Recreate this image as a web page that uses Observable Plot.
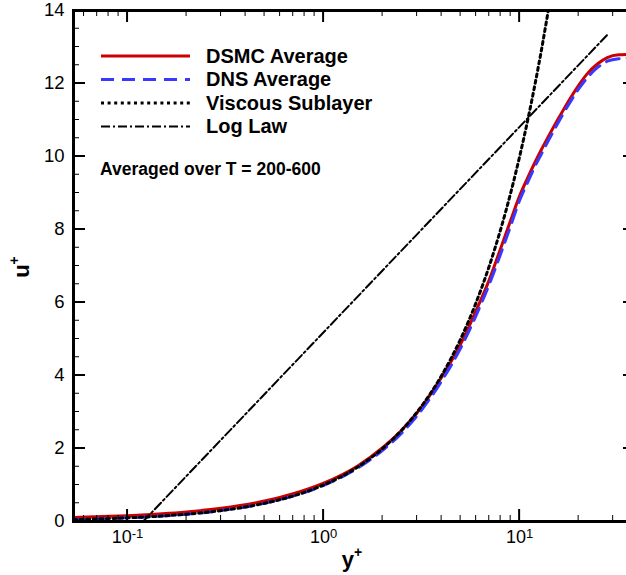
<!DOCTYPE html>
<html>
<head>
<meta charset="utf-8">
<script src="https://cdn.jsdelivr.net/npm/d3@7"></script>
<script src="https://cdn.jsdelivr.net/npm/@observablehq/plot@0.6"></script>
<style>
  html, body { margin: 0; padding: 0; background: #fff; overflow: hidden; }
  #chart svg { display: block; max-width: none !important; }
</style>
</head>
<body>
<div id="chart"></div>
<script>
// ---- data ----
const dsmcYplus = [0.053, 0.07, 0.1, 0.15, 0.2, 0.3, 0.5, 0.7, 1, 1.5, 2, 2.5, 3, 4, 5, 6, 7, 8, 9, 10, 11, 12, 13, 14, 16, 18, 20, 22, 25, 28, 32, 39];
const dsmcUplus = [0.11, 0.13, 0.16, 0.21, 0.26, 0.36, 0.56, 0.76, 1.05, 1.53, 2.02, 2.5, 2.98, 3.95, 4.86, 5.78, 6.62, 7.48, 8.25, 8.92, 9.42, 9.85, 10.22, 10.54, 11.1, 11.57, 11.95, 12.25, 12.54, 12.71, 12.785, 12.8];
const dnsYplus  = [0.053, 0.07, 0.1, 0.15, 0.2, 0.3, 0.5, 0.7, 1, 1.5, 2, 2.5, 3, 4, 5, 6, 7, 8, 9, 10, 11, 12, 13, 14, 16, 18, 20, 22, 25, 28, 32, 39];
const dnsUplus  = [0.055, 0.072, 0.1, 0.15, 0.2, 0.3, 0.5, 0.7, 0.99, 1.47, 1.95, 2.42, 2.9, 3.85, 4.75, 5.65, 6.5, 7.33, 8.1, 8.8, 9.3, 9.74, 10.1, 10.43, 11.0, 11.47, 11.85, 12.14, 12.44, 12.61, 12.68, 12.7];
const viscYplus = [0.053, 0.07, 0.1, 0.15, 0.2, 0.3, 0.4, 0.5, 0.7, 1, 1.5, 2, 2.5, 3, 4, 5, 6, 7, 8, 9, 10, 11, 12, 13, 14];
const viscUplus = [0.053, 0.07, 0.1, 0.15, 0.2, 0.3, 0.4, 0.5, 0.7, 1, 1.5, 2, 2.5, 3, 4, 5, 6, 7, 8, 9, 10, 11, 12, 13, 14];
const logYplus  = [0.12, 28.2];
const logUplus  = [0, 13.35];

const xMajorTicks = [0.1, 1, 10];
const xMinorTicks = [0.06, 0.07, 0.08, 0.09, 0.2, 0.3, 0.4, 0.5, 0.6, 0.7, 0.8, 0.9, 2, 3, 4, 5, 6, 7, 8, 9, 20, 30];
const xTickExponents = ["-1", "0", "1"];
const yMajorTicks = [0, 2, 4, 6, 8, 10, 12, 14];
const yMinorTicks = [0.5, 1, 1.5, 2.5, 3, 3.5, 4.5, 5, 5.5, 6.5, 7, 7.5, 8.5, 9, 9.5, 10.5, 11, 11.5, 12.5, 13, 13.5];

const legendLabels = ["DSMC Average", "DNS Average", "Viscous Sublayer", "Log Law"];
const noteText = "Averaged over T = 200-600";
const xTitle = ["y", "+"];
const yTitle = ["u", "+"];

// ---- build tables ----
const toRows = (xs, ys) => xs.map((x, i) => ({x, y: ys[i]}));
const dsmc = toRows(dsmcYplus, dsmcUplus);
const dns = toRows(dnsYplus, dnsUplus);
const visc = toRows(viscYplus, viscUplus);
const loglaw = toRows(logYplus, logUplus);

const styles = {
  dsmc: {stroke: "#cc0000", strokeWidth: 3, strokeDasharray: null},
  dns:  {stroke: "#3838ff", strokeWidth: 3, strokeDasharray: "13,8"},
  visc: {stroke: "#000", strokeWidth: 3, strokeDasharray: "3,3.6"},
  log:  {stroke: "#000", strokeWidth: 2, strokeDasharray: "9,3,2,3"}
};

const W = 636, H = 575;
const mL = 73, mR = 1, mT = 10, mB = 54;
const innerW = W - mL - mR, innerH = H - mT - mB;
const FONT = "'Liberation Sans', Arial, Helvetica, sans-serif";

const chart = Plot.plot({
  width: W, height: H,
  marginLeft: mL, marginRight: mR, marginTop: mT, marginBottom: mB,
  style: {fontFamily: FONT, background: "#fff", maxWidth: "none"},
  x: {type: "log", domain: [0.053, 39]},
  y: {domain: [0, 14]},
  marks: [
    Plot.line(dsmc, {x: "x", y: "y", ...styles.dsmc, curve: "monotone-x"}),
    Plot.line(dns, {x: "x", y: "y", ...styles.dns, curve: "monotone-x"}),
    Plot.line(visc, {x: "x", y: "y", ...styles.visc, curve: "monotone-x"}),
    Plot.line(loglaw, {x: "x", y: "y", ...styles.log}),
    Plot.frame({stroke: "#000", strokeWidth: 3}),
    Plot.axisX(xMajorTicks, {tickSize: 0, tickPadding: 9, tickFormat: () => "10", fontSize: 18, label: null}),
    Plot.axisY(yMajorTicks, {tickSize: 0, tickPadding: 9, fontSize: 18.5, label: null})
  ]
});

const svg = d3.select(chart);
const sx = chart.scale("x"), sy = chart.scale("y");
const pLeft = mL, pRight = W - mR, pTop = mT, pBottom = H - mB;

// inward ticks drawn through the plot's own scales (as paths with explicit stroke)
const tg = svg.append("g").attr("aria-label", "inward ticks");
const seg = (x1, y1, x2, y2, sw) => tg.append("path")
  .attr("d", `M${x1},${y1}L${x2},${y2}`)
  .attr("fill", "none").attr("stroke", "#000").attr("stroke-width", sw);
const addX = (vals, len, sw) => vals.forEach(v => {
  const px = sx.apply(v);
  seg(px, pBottom, px, pBottom - len, sw);
  seg(px, pTop, px, pTop + len, sw);
});
const addY = (vals, len, sw) => vals.forEach(v => {
  const py = sy.apply(v);
  seg(pLeft, py, pLeft + len, py, sw);
  seg(pRight, py, pRight - len, py, sw);
});
addX(xMinorTicks, 6, 1);
addX(xMajorTicks, 12, 2);
addY(yMinorTicks, 6, 1);
addY(yMajorTicks, 12, 2);

// superscripts on x tick labels
svg.selectAll("g[aria-label='x-axis tick label'] text").each(function(d, i) {
  const t = d3.select(this);
  t.text(null);
  t.append("tspan").text("10");
  t.append("tspan").attr("font-size", 13).attr("dy", -5.5).text(xTickExponents[i]);
});

// axis titles
const xt = svg.append("text")
  .attr("x", mL + innerW / 2 - 2).attr("y", 567)
  .attr("text-anchor", "middle")
  .attr("font-family", FONT).attr("font-weight", "bold").attr("font-size", 22);
xt.append("tspan").text(xTitle[0]);
xt.append("tspan").attr("font-size", 14).attr("dy", -10).text(xTitle[1]);

const yt = svg.append("text")
  .attr("transform", "translate(29,267) rotate(-90)")
  .attr("text-anchor", "middle")
  .attr("font-family", FONT).attr("font-weight", "bold").attr("font-size", 22);
yt.append("tspan").text(yTitle[0]);
yt.append("tspan").attr("font-size", 14).attr("dy", -10).text(yTitle[1]);

// legend
const legendStyles = [styles.dsmc, styles.dns, styles.visc, styles.log];
const lg = svg.append("g").attr("font-family", FONT).attr("font-weight", "bold").attr("text-anchor", "start");
const baselines = [62.7, 86.2, 109.7, 133.2];
legendLabels.forEach((lab, i) => {
  const s = legendStyles[i];
  lg.append("line")
    .attr("x1", 101).attr("x2", 190)
    .attr("y1", baselines[i] - 6.8).attr("y2", baselines[i] - 6.8)
    .attr("stroke", s.stroke).attr("stroke-width", s.strokeWidth)
    .attr("stroke-dasharray", s.strokeDasharray);
  lg.append("text").attr("x", 206).attr("y", baselines[i])
    .attr("font-size", 20).text(lab);
});
lg.append("text").attr("x", 100).attr("y", 175).attr("font-size", 17.5).text(noteText);

document.getElementById("chart").appendChild(chart);
</script>
</body>
</html>
